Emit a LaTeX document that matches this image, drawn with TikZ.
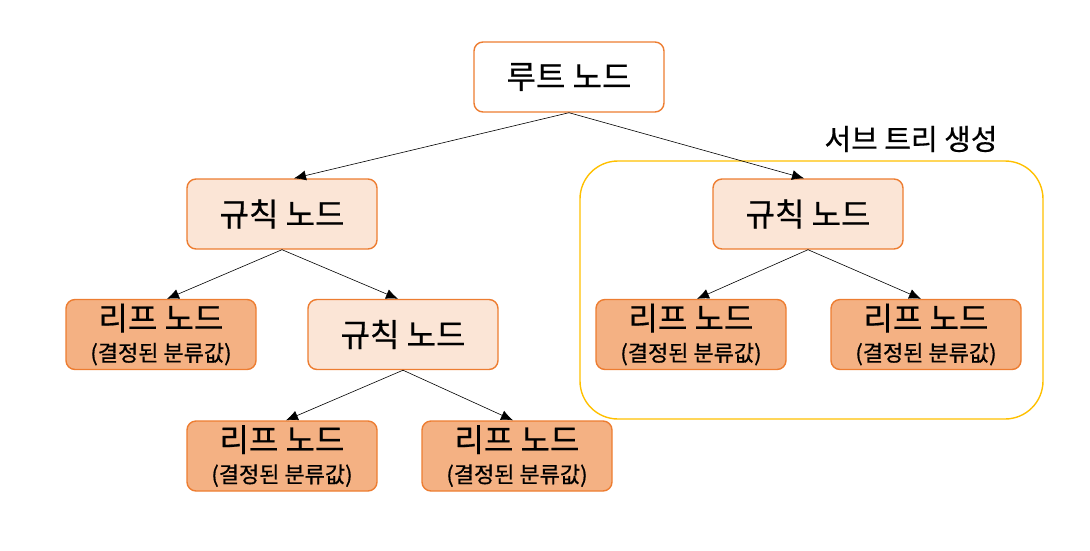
\documentclass[tikz,border=0pt]{standalone}
\usepackage{fontspec}
\newfontfamily\kofont[FakeBold=0.6]{Noto Sans CJK KR}
\usetikzlibrary{arrows.meta,positioning}
\definecolor{nodeStroke}{HTML}{ED7D31}
\definecolor{ruleFill}{HTML}{FBE5D6}
\definecolor{leafFill}{HTML}{F4B183}
\definecolor{subStroke}{HTML}{FFC000}
\newcommand{\subtext}{\fontsize{22}{24}\selectfont}

\begin{document}
\begin{tikzpicture}[
    x=1pt, y=-1pt,
    font=\kofont\fontsize{32}{34}\selectfont,
    >={Latex[length=12pt,width=10pt]},
    baseNode/.style={
        rectangle, rounded corners=9pt,
        draw=nodeStroke, line width=1.4pt,
        minimum width=190pt, minimum height=70pt,
        inner sep=0pt, align=center
    },
    rootNode/.style={baseNode, fill=white},
    ruleNode/.style={baseNode, fill=ruleFill},
    leafNode/.style={baseNode, fill=leafFill},
    subTree/.style={
        draw=subStroke, line width=1.4pt, rounded corners=38pt,
        minimum width=463pt, minimum height=258pt, inner sep=0pt
    },
    title/.style={font=\kofont\fontsize{29}{32}\selectfont},
    edge/.style={->, line width=0.6pt, draw=black}
]
\useasboundingbox (0,0) rectangle (1090,550);

% Layout plan: one root, rule nodes split into leaves; the right branch
% sits in a framed sub tree.
\node[subTree] (SubTree) at (811.5,290) {};
\node[title] (SubTreeTitle) at (911,139) {서브 트리 생성};

\node[rootNode] (Root) at (569,77) {루트 노드};

\node[ruleNode] (RuleLeft) at (282,214) {규칙 노드};
\node[ruleNode] (RuleRight) at (808,214) {규칙 노드};

\node[leafNode] (LeafA) at (161,334.5) {리프 노드\\[-3pt]{\subtext (결정된 분류값)}};
\node[ruleNode] (RuleMid) at (403,334.5) {규칙 노드};
\node[leafNode] (LeafB) at (691,334.5) {리프 노드\\[-3pt]{\subtext (결정된 분류값)}};
\node[leafNode] (LeafC) at (926,334.5) {리프 노드\\[-3pt]{\subtext (결정된 분류값)}};

\node[leafNode] (LeafD) at (282,456) {리프 노드\\[-3pt]{\subtext (결정된 분류값)}};
\node[leafNode] (LeafE) at (517,456) {리프 노드\\[-3pt]{\subtext (결정된 분류값)}};

\draw[edge] (Root.south) -- ([xshift=12pt]RuleLeft.north);
\draw[edge] (Root.south) -- ([xshift=-4pt]RuleRight.north);
\draw[edge] (RuleLeft.south) -- ([xshift=6pt]LeafA.north);
\draw[edge] (RuleLeft.south) -- ([xshift=-5pt]RuleMid.north);
\draw[edge] (RuleMid.south) -- ([xshift=4pt]LeafD.north);
\draw[edge] (RuleMid.south) -- ([xshift=-4pt]LeafE.north);
\draw[edge] (RuleRight.south) -- ([xshift=6pt]LeafB.north);
\draw[edge] (RuleRight.south) -- ([xshift=-5pt]LeafC.north);

\end{tikzpicture}
\end{document}
